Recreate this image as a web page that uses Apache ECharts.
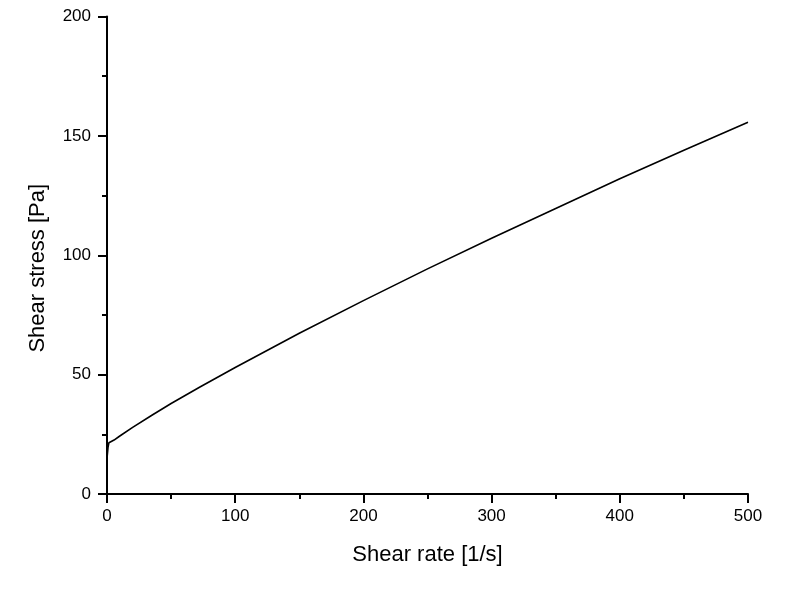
<!DOCTYPE html>
<html>
<head>
<meta charset="utf-8">
<script src="https://cdn.jsdelivr.net/npm/echarts@6/dist/echarts.min.js"></script>
<style>
  html, body { margin: 0; padding: 0; background: #fff; }
  #chart { width: 798px; height: 601px; }
</style>
</head>
<body>
<div id="chart"></div>
<script>
// shear rate [1/s] and shear stress [Pa]
const shearRate = [0.2, 0.8, 1.5, 2.5, 5.5, 10, 20, 35, 50, 72.5, 100, 150, 200, 250, 300, 350, 400, 450, 500];
const shearStress = [16, 19.5, 21.5, 22.2, 22.6, 24.3, 27.9, 33.0, 37.9, 44.8, 53.0, 67.3, 81.0, 94.3, 107.1, 119.6, 132.0, 144.0, 155.7];
const xLabelName = 'Shear rate [1/s]';
const yLabelName = 'Shear stress [Pa]';

const font = 'Liberation Sans, Arial, sans-serif';
const ink = '#000';

const chart = echarts.init(document.getElementById('chart'));

const axisCommon = {
  axisLine: { show: true, lineStyle: { color: ink, width: 2 } },
  axisTick: { show: true, inside: false, length: 9, lineStyle: { color: ink, width: 2 } },
  minorTick: { show: true, splitNumber: 2, length: 5, lineStyle: { color: ink, width: 2 } },
  splitLine: { show: false },
  axisLabel: { color: ink, fontSize: 17, fontFamily: font },
  nameLocation: 'middle',
  nameTextStyle: { color: ink, fontSize: 22, fontFamily: font }
};

chart.setOption({
  backgroundColor: '#fff',
  animation: false,
  grid: { left: 107, right: 50, top: 16.5, bottom: 107 },
  xAxis: {
    ...axisCommon,
    type: 'value',
    min: 0,
    max: 500,
    interval: 100,
    name: xLabelName,
    nameGap: 50,
    axisLabel: { ...axisCommon.axisLabel, margin: 14 }
  },
  yAxis: {
    ...axisCommon,
    type: 'value',
    min: 0,
    max: 200,
    interval: 50,
    name: yLabelName,
    nameGap: 58,
    nameTextStyle: { ...axisCommon.nameTextStyle, padding: [0, 26, 0, 0] },
    axisLabel: { ...axisCommon.axisLabel, margin: 16 }
  },
  series: [
    {
      type: 'line',
      symbol: 'none',
      smooth: false,
      lineStyle: { color: ink, width: 1.6 },
      data: shearRate.map((x, i) => [x, shearStress[i]])
    }
  ]
});
</script>
</body>
</html>
